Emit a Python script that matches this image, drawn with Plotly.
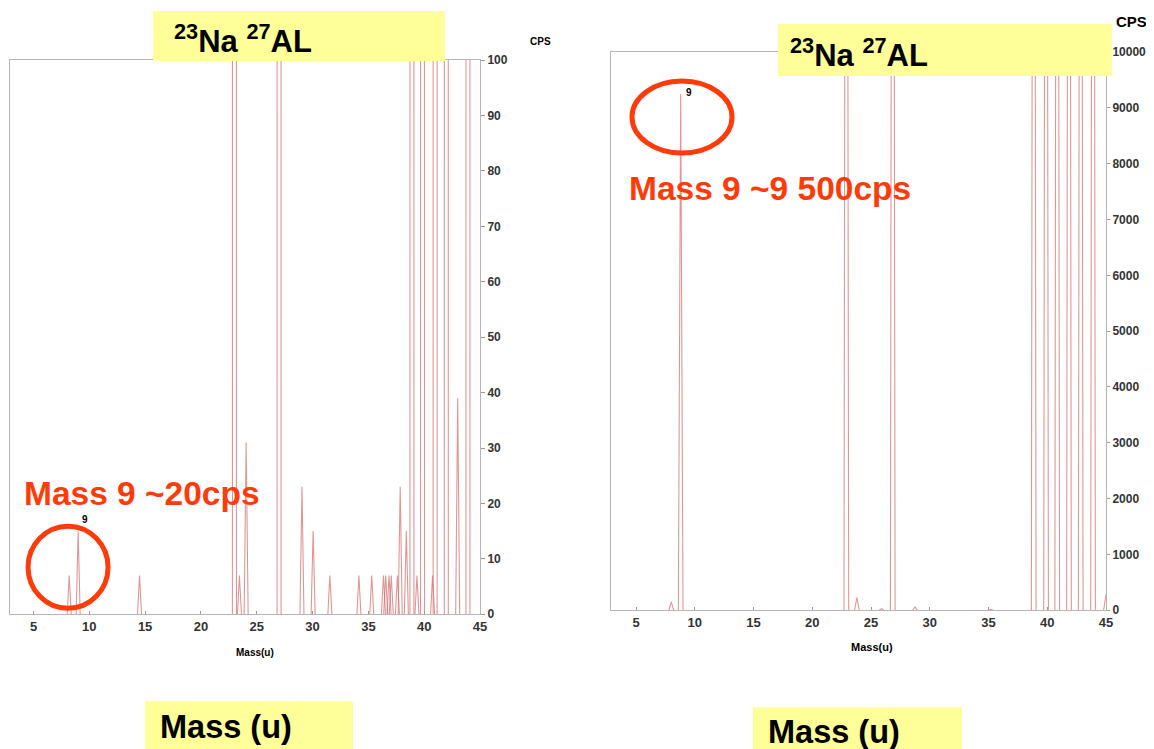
import plotly.graph_objects as go

# figure size; the photographed page shows it shifted and slightly scaled,
# so pixel targets are mapped back to figure coordinates below
FW, FH = 1154, 749
OX, OY = 8.0, 14.2
SX, SY = 0.994, 0.981

# ---------------- data ----------------
# Left spectrum (CPS axis 0-100, tall peaks run off scale)
left_mass = [8.2, 9.0, 14.5, 23.0, 23.45, 24.05, 27.0, 29.05, 30.05, 31.55, 34.15,
             35.3, 36.35, 36.55, 36.85, 37.05, 37.6, 37.85, 38.4, 38.9, 39.35,
             39.85, 40.75, 40.98, 41.98, 43.0, 43.92]
left_cps = [7, 15, 7, 6000, 7, 31, 5000, 23, 15, 7, 7,
            7, 7, 7, 7, 7, 7, 23, 15, 5000, 7,
            5000, 7, 5000, 5000, 39, 5000]

# Right spectrum (CPS axis 0-10000)
right_mass = [8.0, 8.8, 22.9, 23.8, 25.9, 26.85, 28.75, 35.2, 38.85, 39.9,
              40.85, 41.85, 42.85, 43.9, 45.0]
right_cps = [150, 9250, 30000, 230, 30, 30000, 60, 15, 30000, 30000,
             30000, 30000, 30000, 30000, 280]

x_ticks = [5, 10, 15, 20, 25, 30, 35, 40, 45]
left_y_ticks = list(range(0, 101, 10))
right_y_ticks = list(range(0, 10001, 1000))

title_text = "<sup>23</sup>Na <sup>27</sup>AL"
xlabel_text = "Mass (u)"
axis_title = "Mass(u)"
note_left = "Mass 9 ~20cps"
note_right = "Mass 9 ~9 500cps"

# ---------------- helpers ----------------
def px(x):
    return (x / SX - OX) / FW

def py(y):
    return 1 - (y / SY - OY) / FH

def peaks(mass, cps, w):
    xs, ys = [], []
    for m, c in zip(mass, cps):
        xs += [m - w, m, m + w, None]
        ys += [0, c, 0, None]
    return xs, ys

LINE = "rgba(212,105,105,0.7)"
FONT = "Liberation Sans, Arial, sans-serif"
RED = "#ff3b0a"
YEL = "#ffff99"

fig = go.Figure()

lx, ly = peaks(left_mass, left_cps, 0.18)
fig.add_trace(go.Scatter(x=lx, y=ly, mode="lines", line=dict(color=LINE, width=1.1),
                         xaxis="x", yaxis="y", showlegend=False, hoverinfo="skip"))
rx, ry = peaks(right_mass, right_cps, 0.2)
fig.add_trace(go.Scatter(x=rx, y=ry, mode="lines", line=dict(color=LINE, width=1.1),
                         xaxis="x2", yaxis="y2", showlegend=False, hoverinfo="skip"))

tickfont_x = dict(family=FONT, size=13, color="#333", weight="bold")

axis_common = dict(showgrid=False, zeroline=False, showline=True, linecolor="#b5b5b5",
                   linewidth=1, mirror=True)

fig.update_layout(
    width=FW, height=FH,
    margin=dict(l=0, r=0, t=0, b=0),
    paper_bgcolor="white", plot_bgcolor="white",
    showlegend=False,
    xaxis=dict(domain=[px(10), px(480)], range=[2.9, 45.0], anchor="y",
               tickvals=x_ticks, ticks="inside", ticklen=3, tickcolor="#999",
               tickfont=tickfont_x, **axis_common),
    yaxis=dict(domain=[py(613), py(59)], range=[0, 100], anchor="x", side="right",
               tickvals=left_y_ticks, ticks="outside", ticklen=4, tickcolor="#999",
               tickfont=dict(family=FONT, size=12, color="#333", weight="bold"),
               **axis_common),
    xaxis2=dict(domain=[px(611), px(1106)], range=[2.87, 45.0], anchor="y2",
                tickvals=x_ticks, ticks="inside", ticklen=3, tickcolor="#999",
                tickfont=tickfont_x, **axis_common),
    yaxis2=dict(domain=[py(609), py(51)], range=[0, 10000], anchor="x2", side="right",
                tickvals=right_y_ticks, tickformat="d", ticks="outside", ticklen=3,
                tickcolor="#999",
                tickfont=dict(family=FONT, size=12, color="#333", weight="bold"),
                **axis_common),
)

shapes = []
# yellow boxes
for (x0, y0, x1, y1) in [(153, 10, 445, 58), (778, 23, 1112, 73),
                         (145, 700, 353, 748), (753, 706, 962, 749)]:
    shapes.append(dict(type="rect", xref="paper", yref="paper",
                       x0=px(x0), x1=px(x1), y0=py(y1 + 2), y1=py(y0),
                       fillcolor=YEL, line=dict(width=0), layer="above"))
# red circles
for (cx, cy, rxx, ryy) in [(68, 566, 40, 41), (682, 116, 50, 36)]:
    shapes.append(dict(type="circle", xref="paper", yref="paper",
                       x0=px(cx - rxx), x1=px(cx + rxx), y0=py(cy + ryy), y1=py(cy - ryy),
                       line=dict(color=RED, width=5), layer="above"))
fig.update_layout(shapes=shapes)

ann = []
def text(x, y, s, size, color="black", xanchor="left", bold=True):
    ann.append(dict(x=px(x), y=py(y), xref="paper", yref="paper", text=s,
                    showarrow=False, xanchor=xanchor, yanchor="middle",
                    font=dict(family=FONT, size=size, color=color,
                              weight="bold" if bold else "normal")))

text(172, 38, title_text, 31)
text(788, 52, title_text, 31)
text(158, 726, xlabel_text, 32.5)
text(766, 731, xlabel_text, 32.5)
text(22, 492, note_left, 33.5, color=RED)
text(627, 187, note_right, 33.5, color=RED)
text(540, 40, "CPS", 10, xanchor="center")
text(1132, 20, "CPS", 15, xanchor="center")
text(255, 651, axis_title, 10, xanchor="center")
text(872, 646, axis_title, 11, xanchor="center")
text(85, 518, "9", 10, xanchor="center")
text(689, 91, "9", 10, xanchor="center")
fig.update_layout(annotations=ann)

fig.write_html("out.html")
